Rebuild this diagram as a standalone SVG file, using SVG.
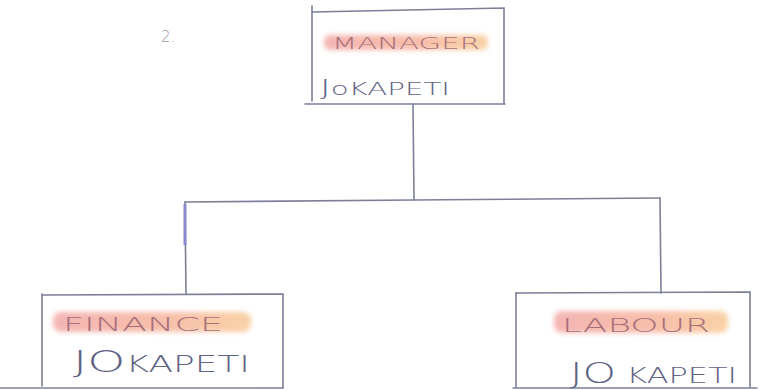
<svg xmlns="http://www.w3.org/2000/svg" width="760" height="390" viewBox="0 0 760 390">
  <defs>
    <filter id="soft" x="-20%" y="-60%" width="140%" height="220%">
      <feGaussianBlur stdDeviation="2.5"/>
    </filter>
    <linearGradient id="hl" x1="0" y1="0" x2="1" y2="0">
      <stop offset="0" stop-color="#f2a3a0"/>
      <stop offset="0.6" stop-color="#f5b095"/>
      <stop offset="1" stop-color="#f8c790"/>
    </linearGradient>
  </defs>
  <style>
    .pen { fill: none; stroke: #7c7f98; stroke-width: 1.6; stroke-linecap: round; }
    .hl { fill: url(#hl); opacity: 0.8; filter: url(#soft); }
    .role { font-family: "DejaVu Sans", "Liberation Sans", sans-serif; font-weight: 200; fill: #a86f7c; }
    .name { font-family: "DejaVu Sans", "Liberation Sans", sans-serif; font-weight: 200; fill: #5f6384; }
    .num { font-family: "DejaVu Sans", sans-serif; font-weight: 200; fill: #9a9aa6; font-size: 15px; }
  </style>
  <rect width="760" height="390" fill="#ffffff"/>

  <text class="num" x="161" y="42">2.</text>

  <g id="connectors">
    <path class="pen" d="M413 104 L414 200"/>
    <path class="pen" d="M185 202 L413 200 L660 198"/>
    <path class="pen" d="M185 202 L186 294"/>
    <path d="M185 204 L185 245" stroke="#8a8ad0" stroke-width="3" fill="none"/>
    <path class="pen" d="M660 198 L661 293"/>
  </g>

  <g id="manager">
    <path class="pen" d="M312 6 L312 101"/>
    <path class="pen" d="M312 12 L504 8 L504 104"/>
    <path class="pen" d="M305 104 L505 104"/>
    <rect class="hl" x="324" y="35" width="164" height="15" rx="6"/>
    <text class="role" x="332" y="49" font-size="15" textLength="148" lengthAdjust="spacingAndGlyphs">MANAGER</text>
    <text class="name" x="320" y="95" font-size="17" textLength="130" lengthAdjust="spacingAndGlyphs"><tspan font-size="21">J</tspan>oKAPETI</text>
  </g>

  <g id="finance">
    <path class="pen" d="M42 294 L42 386"/>
    <path class="pen" d="M42 295 L283 294 L283 388"/>
    <path class="pen" d="M0 388 L283 388"/>
    <rect class="hl" x="53" y="312" width="198" height="20" rx="8"/>
    <text class="role" x="63" y="331" font-size="19" textLength="160" lengthAdjust="spacingAndGlyphs">FINANCE</text>
    <text class="name" x="73" y="372" font-size="23" textLength="177" lengthAdjust="spacingAndGlyphs"><tspan font-size="31">JO</tspan>KAPETI</text>
  </g>

  <g id="labour">
    <path class="pen" d="M516 293 L516 387"/>
    <path class="pen" d="M516 293 L750 292 L750 387"/>
    <path class="pen" d="M513 388 L757 388"/>
    <rect class="hl" x="554" y="311" width="174" height="22" rx="8"/>
    <text class="role" x="562" y="332" font-size="19" textLength="148" lengthAdjust="spacingAndGlyphs">LABOUR</text>
    <text class="name" x="570" y="383" font-size="21" textLength="167" lengthAdjust="spacingAndGlyphs"><tspan font-size="28">JO</tspan> KAPETI</text>
  </g>
</svg>
